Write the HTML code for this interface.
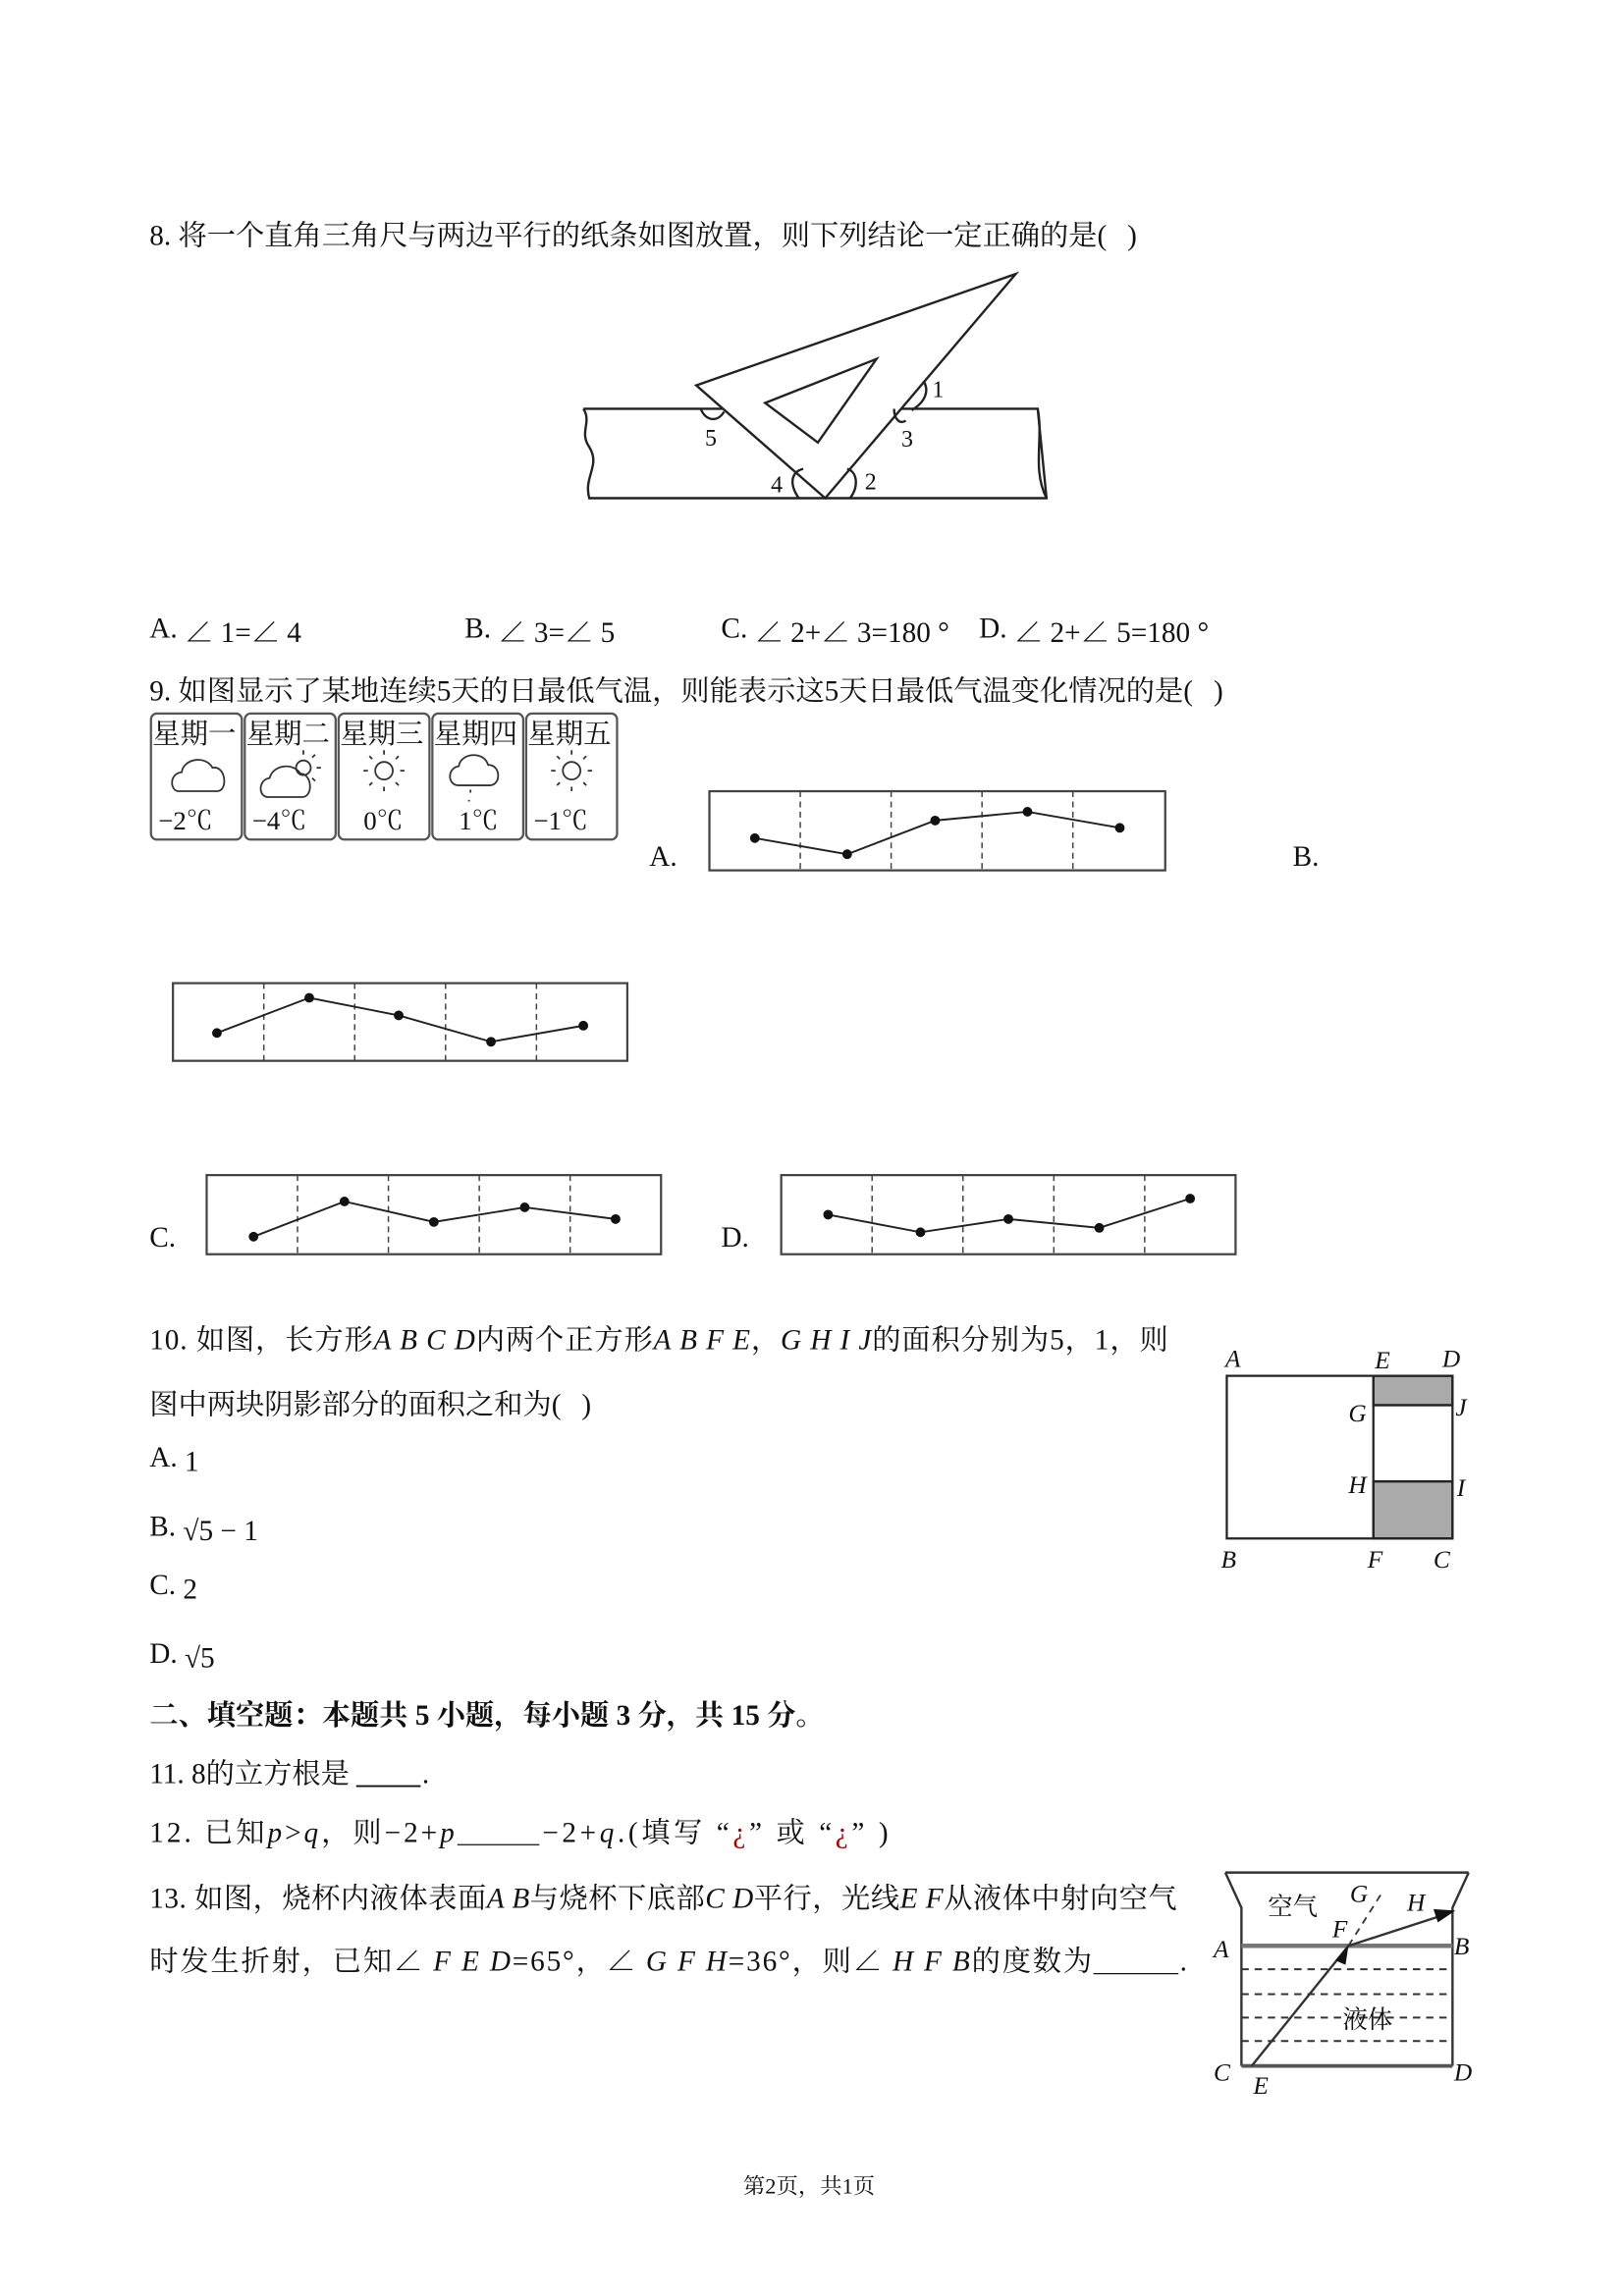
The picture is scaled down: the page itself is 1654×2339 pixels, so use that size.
<!DOCTYPE html>
<html><head><meta charset="utf-8"><style>
html,body{margin:0;padding:0;background:#fff}
svg{display:block}
text{font-family:"Liberation Serif","Noto Serif CJK SC","Noto Sans CJK SC",serif;fill:#111}
.t{font-size:19.6px}
.i{font-style:italic}
.l{font-size:17px;font-style:italic}
</style></head><body>
<svg width="1654" height="2339" viewBox="0 0 1108 1567" preserveAspectRatio="none" xmlns="http://www.w3.org/2000/svg">
<!-- Q8 -->
<text class="t" x="102" y="167">8. 将一个直角三角尺与两边平行的纸条如图放置，则下列结论一定正确的是(<tspan dx="14">)</tspan></text>
<g stroke="#222" stroke-width="1.6" fill="none">
<path d="M398,279 L708,279 L714,340 L402,340 C398,325 410,318 402,305 C395,295 404,288 398,279"/>
<path d="M708,279 C712,300 704,320 714,340"/>
<path d="M475,263 L693,187 L563,340 Z" fill="#fff"/>
<path d="M522,275 L598,245 L558,302 Z"/>
<path d="M622,280 C632,274 634,266 630,260"/>
<path d="M478,279 C482,288 490,288 494,281"/>
<path d="M610,279 C610,286 614,290 618,287"/>
<path d="M545,340 C538,330 540,322 548,320"/>
<path d="M580,340 C586,332 585,322 578,320"/>
</g>
<g><text x="636" y="271" font-size="16">1</text><text x="481" y="304" font-size="16">5</text><text x="615" y="305" font-size="16">3</text><text x="526" y="336" font-size="16">4</text><text x="590" y="334" font-size="16">2</text></g>
<text class="t" x="102" y="435">A. <tspan dy="3">∠ 1=∠ 4</tspan></text>
<text class="t" x="317" y="435">B. <tspan dy="3">∠ 3=∠ 5</tspan></text>
<text class="t" x="492" y="435">C. <tspan dy="3">∠ 2+∠ 3=180 °</tspan></text>
<text class="t" x="668" y="435">D. <tspan dy="3">∠ 2+∠ 5=180 °</tspan></text>
<!-- Q9 -->
<text class="t" x="102" y="478">9. 如图显示了某地连续5天的日最低气温，则能表示这5天日最低气温变化情况的是(<tspan dx="14">)</tspan></text>
<g stroke="#555" stroke-width="1.5" fill="#fff">
<rect x="103" y="487" width="62" height="86" rx="4"/><rect x="167" y="487" width="62" height="86" rx="4"/><rect x="231" y="487" width="62" height="86" rx="4"/><rect x="295" y="487" width="62" height="86" rx="4"/><rect x="359" y="487" width="62" height="86" rx="4"/>
</g>
<g fill="#333">
<text x="104" y="507" font-size="19">星期一</text><text x="168" y="507" font-size="19">星期二</text><text x="232" y="507" font-size="19">星期三</text><text x="296" y="507" font-size="19">星期四</text><text x="360" y="507" font-size="19">星期五</text>
<text x="108" y="566" font-size="18">−2℃</text><text x="172" y="566" font-size="18">−4℃</text><text x="248" y="566" font-size="18">0℃</text><text x="313" y="566" font-size="18">1℃</text><text x="364" y="566" font-size="18">−1℃</text>
</g>
<g stroke="#333" stroke-width="1.2" fill="none">
<path d="M122,540 C116,540 115,528 124,527 C125,518 140,515 145,524 C154,522 156,540 148,540 Z"/>
<path d="M183,544 C176,544 176,532 184,531 C186,522 200,520 205,528 C213,528 214,544 206,544 Z"/>
<circle cx="207" cy="524" r="5"/><circle cx="262" cy="526" r="6"/><circle cx="390" cy="526" r="6"/>
<path d="M262,515v-3M262,537v3M251,526h-3M273,526h3M254,518l-2,-2M270,518l2,-2M254,534l-2,2M270,534l2,2"/>
<path d="M390,515v-3M390,537v3M379,526h-3M401,526h3M382,518l-2,-2M398,518l2,-2M382,534l-2,2M398,534l2,2"/>
<path d="M207,515v-3M216,524h3M213,517l2,-2M213,531l2,2"/>
<path d="M313,536 C305,536 305,524 313,523 C314,514 330,512 333,522 C342,522 342,536 334,536 Z"/>
<path d="M321,539v2M320,546v1"/>
</g>
<!-- charts -->
<g stroke="#444" stroke-width="1.5" fill="none">
<rect x="484" y="540" width="311" height="54"/>
<rect x="118" y="671" width="310" height="53"/>
<rect x="141" y="802" width="310" height="54"/>
<rect x="533" y="802" width="310" height="54"/>
</g>
<g stroke="#444" stroke-width="1" stroke-dasharray="4,3">
<path d="M546,540v54M608,540v54M670,540v54M732,540v54"/>
<path d="M180,671v53M242,671v53M304,671v53M366,671v53"/>
<path d="M203,802v54M265,802v54M327,802v54M389,802v54"/>
<path d="M595,802v54M657,802v54M719,802v54M781,802v54"/>
</g>
<g stroke="#222" stroke-width="1.3" fill="none">
<polyline points="515,572 578,583 638,560 701,554 764,565"/>
<polyline points="148,705 211,681 272,693 335,711 398,700"/>
<polyline points="173,844 235,820 296,834 358,824 420,832"/>
<polyline points="565,829 628,841 688,832 750,838 812,818"/>
</g>
<g fill="#111">
<circle cx="515" cy="572" r="3.3"/><circle cx="578" cy="583" r="3.3"/><circle cx="638" cy="560" r="3.3"/><circle cx="701" cy="554" r="3.3"/><circle cx="764" cy="565" r="3.3"/>
<circle cx="148" cy="705" r="3.3"/><circle cx="211" cy="681" r="3.3"/><circle cx="272" cy="693" r="3.3"/><circle cx="335" cy="711" r="3.3"/><circle cx="398" cy="700" r="3.3"/>
<circle cx="173" cy="844" r="3.3"/><circle cx="235" cy="820" r="3.3"/><circle cx="296" cy="834" r="3.3"/><circle cx="358" cy="824" r="3.3"/><circle cx="420" cy="832" r="3.3"/>
<circle cx="565" cy="829" r="3.3"/><circle cx="628" cy="841" r="3.3"/><circle cx="688" cy="832" r="3.3"/><circle cx="750" cy="838" r="3.3"/><circle cx="812" cy="818" r="3.3"/>
</g>
<text class="t" x="443" y="591">A.</text><text class="t" x="882" y="591">B.</text>
<text class="t" x="102" y="851">C.</text><text class="t" x="492" y="851">D.</text>
<!-- Q10 -->
<text class="t" x="102" y="921" textLength="695" lengthAdjust="spacing">10. 如图，长方形<tspan class="i">A B C D</tspan>内两个正方形<tspan class="i">A B F E</tspan>，<tspan class="i">G H I J</tspan>的面积分别为5，1，则</text>
<text class="t" x="102" y="965">图中两块阴影部分的面积之和为(<tspan dx="14">)</tspan></text>
<text class="t" x="102" y="1001">A. <tspan dy="3">1</tspan></text>
<text class="t" x="102" y="1048">B. <tspan dy="3">√5 − 1</tspan></text>
<text class="t" x="102" y="1088">C. <tspan dy="3">2</tspan></text>
<text class="t" x="102" y="1135">D. <tspan dy="3">√5</tspan></text>
<g stroke="#222" stroke-width="1.5">
<rect x="937" y="939" width="54" height="20" fill="#aaa"/>
<rect x="937" y="1011" width="54" height="39" fill="#aaa"/>
<rect x="837" y="939" width="154" height="111" fill="none"/>
<path d="M937,939v111M937,959h54M937,1011h54" fill="none"/>
</g>
<g class="l"><text x="836" y="933">A</text><text x="938" y="934">E</text><text x="984" y="933">D</text><text x="920" y="970">G</text><text x="993" y="966">J</text><text x="920" y="1019">H</text><text x="994" y="1021">I</text><text x="833" y="1070">B</text><text x="933" y="1070">F</text><text x="978" y="1070">C</text></g>
<!-- section 2 -->
<text class="t" x="102" y="1177" font-weight="bold">二、填空题：本题共 5 小题，每小题 3 分，共 15 分。</text>
<text class="t" x="102" y="1217">11. 8的立方根是</text>
<text class="t" x="288" y="1217">.</text>
<path d="M243,1219h44" stroke="#111" stroke-width="1.2"/>
<text class="t" x="102" y="1257" textLength="208" lengthAdjust="spacing">12. 已知<tspan class="i">p</tspan>&gt;<tspan class="i">q</tspan>，则−2+<tspan class="i">p</tspan></text>
<text class="t" x="370" y="1257" textLength="236" lengthAdjust="spacing">−2+<tspan class="i">q</tspan>.(填写 “<tspan fill="#a00">¿</tspan>” 或 “<tspan fill="#a00">¿</tspan>” )</text>
<path d="M312,1259h56" stroke="#111" stroke-width="0.8"/>
<text class="t" x="102" y="1302" textLength="701" lengthAdjust="spacing">13. 如图，烧杯内液体表面<tspan class="i">A B</tspan>与烧杯下底部<tspan class="i">C D</tspan>平行，光线<tspan class="i">E F</tspan>从液体中射向空气</text>
<text class="t" x="102" y="1345" textLength="643" lengthAdjust="spacing">时发生折射，已知∠ <tspan class="i">F E D</tspan>=65°，∠ <tspan class="i">G F H</tspan>=36°，则∠ <tspan class="i">H F B</tspan>的度数为</text>
<text class="t" x="805" y="1345">.</text>
<path d="M746,1347h58" stroke="#111" stroke-width="0.8"/>
<!-- beaker -->
<g stroke="#333" stroke-width="1.6" fill="none">
<path d="M836,1278 L1002,1278 M836,1278 L847,1302 L847,1410 M1002,1278 L991,1302 L991,1410"/>
<path d="M847,1410h144" stroke="#555" stroke-width="2.5"/>
<path d="M847,1328h144" stroke="#777" stroke-width="3"/>
<path d="M847,1344h144M847,1361h144M847,1377h144M847,1393h144" stroke-dasharray="5,4" stroke-width="1.3"/>
<path d="M854,1410 L920,1328 L988,1306"/>
<path d="M920,1328 L944,1290" stroke-dasharray="5,4" stroke-width="1.2"/>
</g>
<path d="M920,1328 L911,1338 L918,1341 Z" fill="#111"/>
<path d="M993,1304 L978,1303 L981,1312 Z" fill="#111"/>
<text x="865" y="1307" font-size="17" fill="#666">空气</text>
<text x="916" y="1384" font-size="17" fill="#666">液体</text>
<g class="l"><text x="921" y="1298">G</text><text x="960" y="1304">H</text><text x="909" y="1322">F</text><text x="828" y="1336">A</text><text x="992" y="1334">B</text><text x="828" y="1420">C</text><text x="992" y="1420">D</text><text x="855" y="1429">E</text></g>
<text x="552" y="1497" font-size="15" text-anchor="middle">第2页，共1页</text>
</svg>
</body></html>
